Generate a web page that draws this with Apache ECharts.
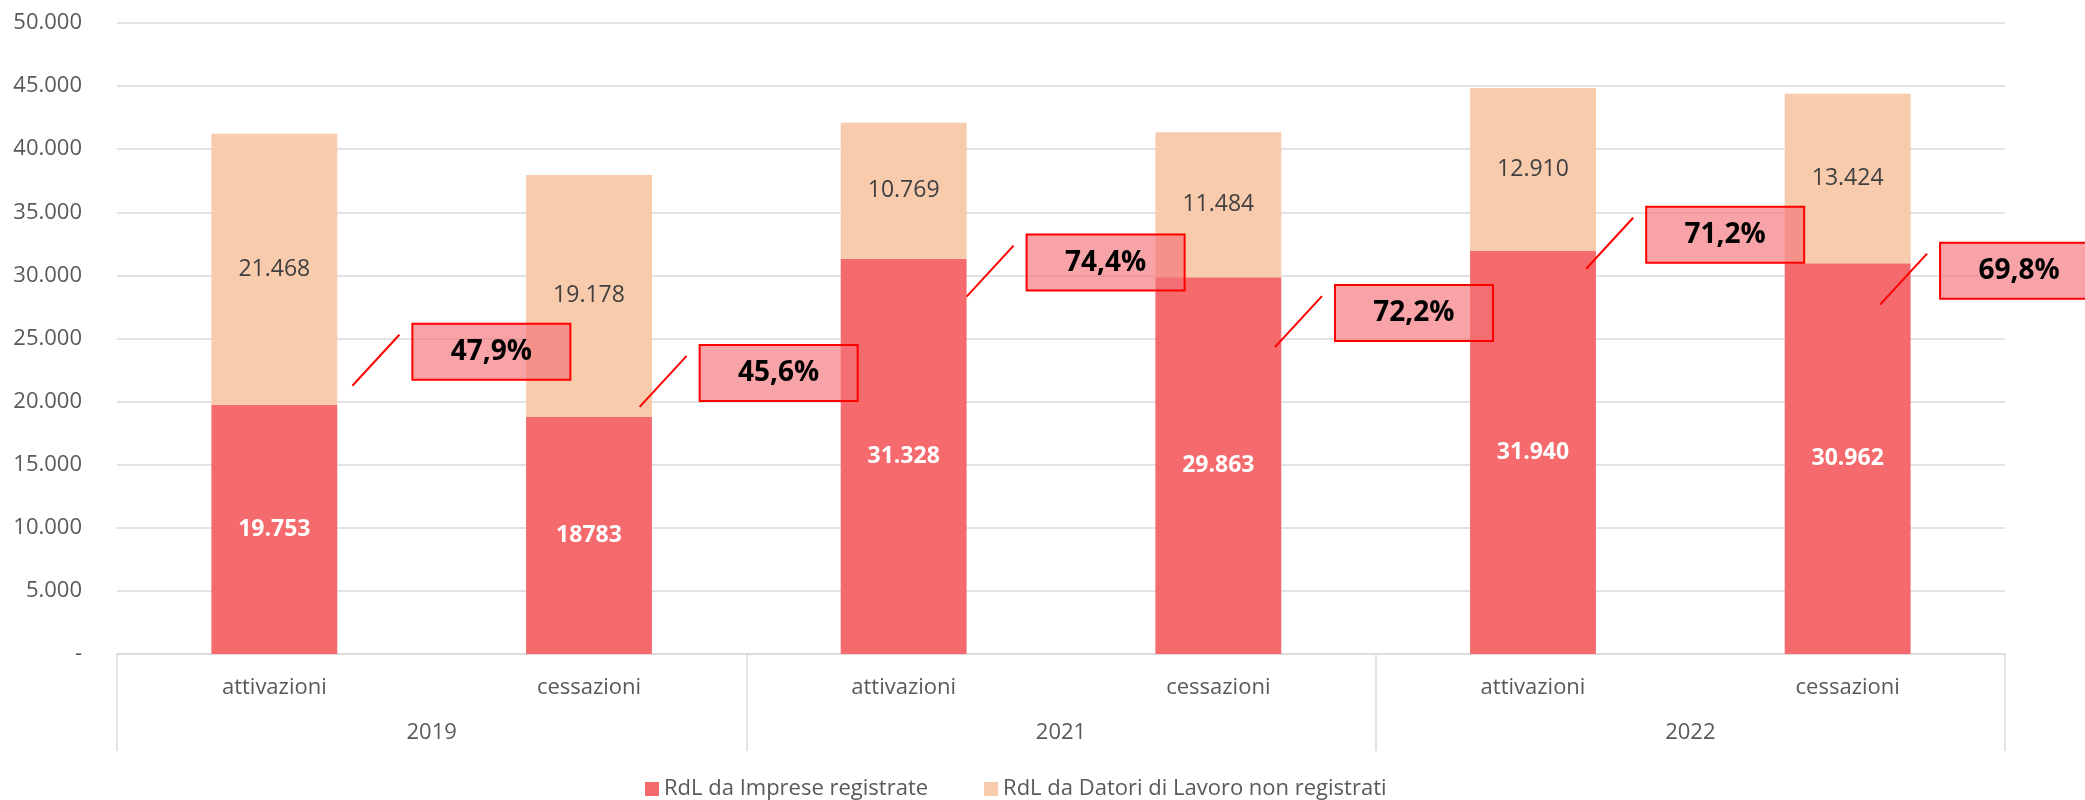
<!DOCTYPE html>
<html>
<head>
<meta charset="utf-8">
<script src="https://cdn.jsdelivr.net/npm/echarts@6/dist/echarts.min.js"></script>
<style>
  html, body { margin: 0; padding: 0; background: #ffffff; }
  #chart { width: 2085px; height: 800px; }
</style>
</head>
<body>
<div id="chart"></div>
<script>
// ---- data ----
const categories = ['attivazioni', 'cessazioni', 'attivazioni', 'cessazioni', 'attivazioni', 'cessazioni'];
const years = ['2019', '2021', '2022'];
const seriesNames = ['RdL da Imprese registrate', 'RdL da Datori di Lavoro non registrati'];
const imprese = [19753, 18783, 31328, 29863, 31940, 30962];
const impreseLabels = ['19.753', '18783', '31.328', '29.863', '31.940', '30.962'];
const nonRegistrati = [21468, 19178, 10769, 11484, 12910, 13424];
const shareLabels = ['47,9%', '45,6%', '74,4%', '72,2%', '71,2%', '69,8%'];
const yTicks = { min: 0, max: 50000, interval: 5000 };

// ---- annotation placement (layout, not data) ----
const shareAnchorValue = [21260, 19580, 28320, 24320, 30530, 27680];
const shareAnchorOffset = [0.248, 0.161, 0.2, 0.18, 0.169, 0.103];

const FONT = '"Open Sans", "Noto Sans", sans-serif';
const fmtThousands = v => (v === 0 ? '-' : String(v).replace(/\B(?=(\d{3})+(?!\d))/g, '.'));

const chart = echarts.init(document.getElementById('chart'), null, { renderer: 'canvas' });

const option = {
  animation: false,
  backgroundColor: '#ffffff',
  textStyle: { fontFamily: FONT },
  grid: { left: 117, right: 80, top: 23, bottom: 146, containLabel: false },
  legend: {
    top: 773,
    left: 640,
    itemWidth: 14,
    itemHeight: 14,
    itemGap: 56,
    icon: 'rect',
    textStyle: { fontFamily: FONT, fontSize: 22, color: '#595959' },
    data: seriesNames
  },
  xAxis: [
    {
      type: 'category',
      position: 'bottom',
      data: categories,
      axisLine: { show: true, lineStyle: { color: '#d9d9d9', width: 1.5 } },
      axisTick: { show: false },
      axisLabel: { margin: 23, fontFamily: FONT, fontSize: 22, color: '#595959' }
    },
    {
      type: 'category',
      position: 'bottom',
      data: years,
      axisLine: { show: false },
      axisTick: { show: true, length: 97, lineStyle: { color: '#d9d9d9', width: 1.5 } },
      axisLabel: { margin: 68, fontFamily: FONT, fontSize: 22, color: '#595959' }
    }
  ],
  yAxis: {
    type: 'value',
    min: yTicks.min,
    max: yTicks.max,
    interval: yTicks.interval,
    axisLine: { show: false },
    axisTick: { show: false },
    splitLine: { lineStyle: { color: '#d9d9d9', width: 1.5 } },
    axisLabel: {
      margin: 35,
      fontFamily: FONT,
      fontSize: 22,
      color: '#595959',
      formatter: fmtThousands
    }
  },
  series: [
    {
      name: seriesNames[0],
      type: 'bar',
      stack: 'tot',
      xAxisIndex: 0,
      barCategoryGap: '60%',
      itemStyle: { color: '#F46A6D' },
      label: {
        show: true,
        position: 'inside',
        color: '#ffffff',
        fontWeight: 'bold',
        fontFamily: FONT,
        fontSize: 23,
        formatter: p => impreseLabels[p.dataIndex]
      },
      data: imprese
    },
    {
      name: seriesNames[1],
      type: 'bar',
      stack: 'tot',
      xAxisIndex: 0,
      barCategoryGap: '60%',
      itemStyle: { color: '#F8CBAD' },
      label: {
        show: true,
        position: 'inside',
        color: '#404040',
        fontFamily: FONT,
        fontSize: 23,
        formatter: p => fmtThousands(p.value)
      },
      data: nonRegistrati
    },
    {
      name: 'quota',
      type: 'custom',
      xAxisIndex: 0,
      z: 10,
      clip: false,
      silent: true,
      renderItem: function (params, api) {
        const i = api.value(0);
        const p = api.coord([i, api.value(1)]);
        const bw = api.size([1, 0])[0];
        const x0 = p[0] + shareAnchorOffset[i] * bw;
        const y0 = p[1];
        const bx = x0 + 60, by = y0 - 62, w = 158, h = 56;
        return {
          type: 'group',
          children: [
            { type: 'line', shape: { x1: x0, y1: y0, x2: x0 + 47, y2: y0 - 51 },
              style: { stroke: '#ff0000', lineWidth: 2 } },
            { type: 'rect', shape: { x: bx, y: by, width: w, height: h },
              style: { fill: 'rgba(244,114,120,0.65)', stroke: '#ff0000', lineWidth: 2 } },
            { type: 'text', style: { text: shareLabels[i], x: bx + w / 2, y: by + h / 2,
              align: 'center', verticalAlign: 'middle',
              font: 'bold 28px ' + FONT, fill: '#000000' } }
          ]
        };
      },
      data: shareAnchorValue.map((v, i) => [i, v])
    }
  ]
};

chart.setOption(option);
</script>
</body>
</html>
